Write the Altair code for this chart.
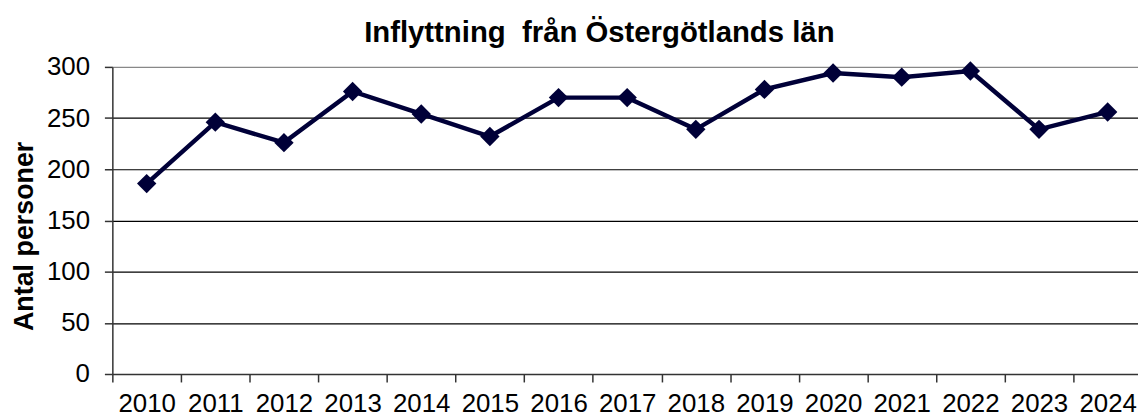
import altair as alt
import pandas as pd

years = [str(y) for y in range(2010, 2025)]
values = [186, 246, 226, 276, 254, 232, 270, 270, 239, 278, 294, 290, 296, 239, 256]
y_ticks = [0, 50, 100, 150, 200, 250, 300]

df = pd.DataFrame({"year": years, "value": values})

FONT = "Liberation Sans"
COLOR = "#000038"

x_enc = alt.X(
    "year:O",
    sort=years,
    bandPosition=0.5,
    scale=alt.Scale(type="band", paddingInner=0, paddingOuter=0, range=[0, 1036]),
    axis=alt.Axis(
        title=None,
        tickBand="extent",
        grid=False,
        labelAngle=0,
        labelFontSize=26,
        labelFont=FONT,
        labelColor="black",
        labelPadding=9,
        tickSize=8,
        tickColor="#333333",
        tickWidth=1.5,
        domainColor="#333333",
        domainWidth=1.5,
    ),
)

y_enc = alt.Y(
    "value:Q",
    scale=alt.Scale(domain=[0, 300], nice=False),
    axis=alt.Axis(
        values=y_ticks,
        title="Antal personer",
        titleFont=FONT,
        titleFontSize=27,
        titleFontWeight="bold",
        titleColor="black",
        titleAngle=-90,
        titleAlign="center",
        titleBaseline="middle",
        titleX=-88,
        titleY=170,
        labelFontSize=26,
        labelFont=FONT,
        labelColor="black",
        labelPadding=15,
        tickSize=8,
        tickColor="#333333",
        tickWidth=1.5,
        domainColor="#333333",
        domainWidth=1.5,
        gridColor={"condition": {"test": "datum.value === 300", "value": "#888888"}, "value": "black"},
        gridWidth=1.2,
    ),
)

line = alt.Chart(df).mark_line(color=COLOR, strokeWidth=4.5).encode(x=x_enc, y=y_enc)
points = alt.Chart(df).mark_point(
    shape="diamond", filled=True, size=380, color=COLOR, opacity=1
).encode(x=x_enc, y=y_enc)

chart = (
    alt.layer(line, points)
    .properties(
        width=1032,
        height=309,
        title=alt.TitleParams(
            "Inflyttning\u00a0 från Östergötlands län",
            font=FONT,
            fontSize=29.5,
            fontWeight="bold",
            color="black",
            anchor="middle",
            dx=-26,
            offset=6,
        ),
        autosize=alt.AutoSizeParams(type="none"),
        padding={"left": 105, "top": 58, "right": 0, "bottom": 42},
    )
    .configure_view(stroke=None)
)

chart.save("out.html", embed_options={"renderer": "svg", "actions": False})
